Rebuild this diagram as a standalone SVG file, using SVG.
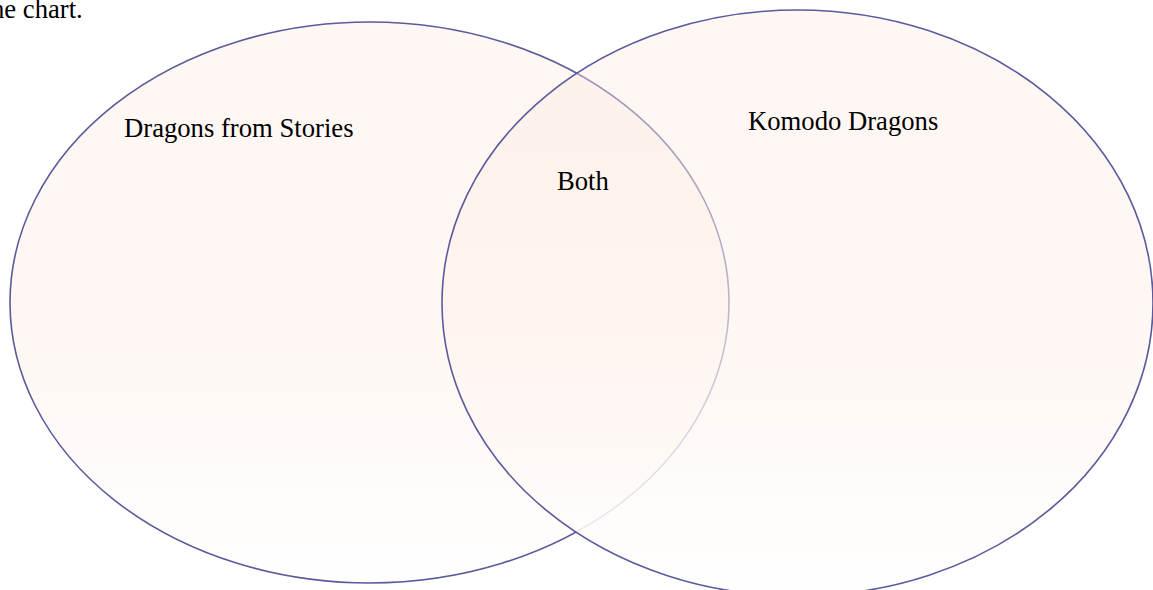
<svg xmlns="http://www.w3.org/2000/svg" width="1153" height="590" viewBox="0 0 1153 590">
  <defs>
    <linearGradient id="fillGrad" x1="0" y1="0" x2="0" y2="1">
      <stop offset="0" stop-color="#FCE8DD" stop-opacity="0.34"/>
      <stop offset="0.5" stop-color="#FEF2EC" stop-opacity="0.6"/>
      <stop offset="1" stop-color="#FFFFFF" stop-opacity="0.97"/>
    </linearGradient>
    <style>
      .circle { fill: url(#fillGrad); stroke: #5A5A9C; stroke-width: 1.6; }
      .label { font-family: "Liberation Serif", "Times New Roman", serif; font-size: 26.67px; fill: #000000; }
    </style>
  </defs>
  <rect x="0" y="0" width="1153" height="590" fill="#FFFFFF"/>
  <text class="label" x="-9" y="18">he chart.</text>
  <g id="node-stories">
    <ellipse class="circle" cx="369.5" cy="302.5" rx="359.5" ry="280.5"/>
    <text class="label" x="124" y="137">Dragons from Stories</text>
  </g>
  <g id="node-komodo">
    <ellipse class="circle" cx="797.5" cy="303" rx="355.5" ry="293"/>
    <text class="label" x="748" y="130">Komodo Dragons</text>
  </g>
  <g id="node-both">
    <text class="label" x="557" y="190">Both</text>
  </g>
  <g id="connectors"></g>
</svg>
